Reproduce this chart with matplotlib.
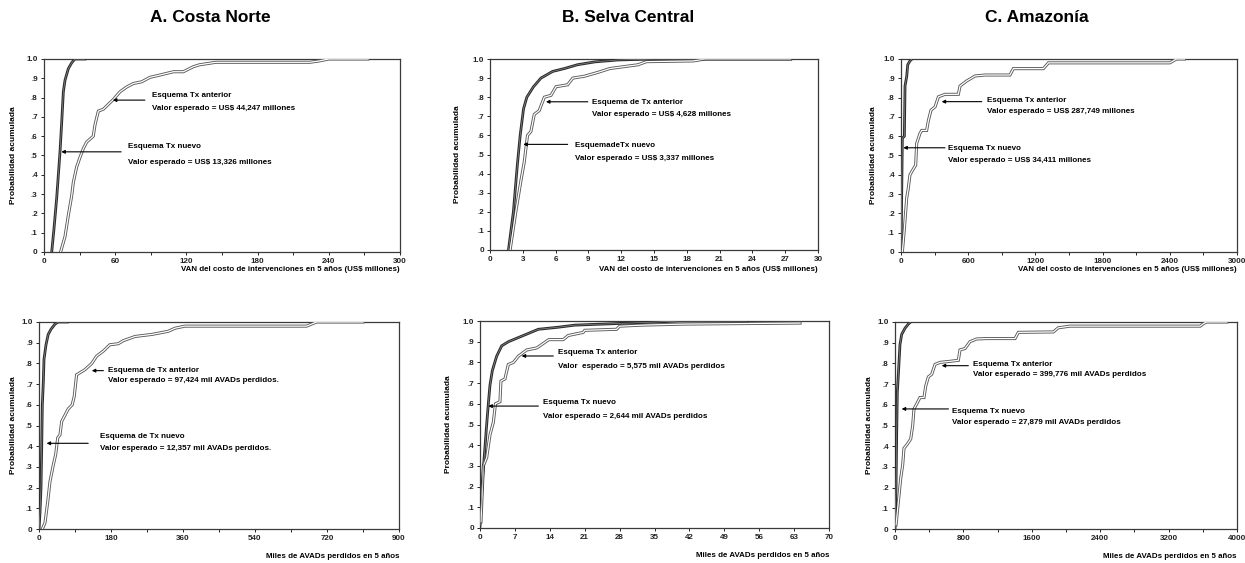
import matplotlib
matplotlib.use("Agg")
import matplotlib.pyplot as plt
from matplotlib.ticker import MultipleLocator, FuncFormatter

plt.rcParams["font.family"] = ["Liberation Sans", "DejaVu Sans"]
plt.rcParams["font.weight"] = "bold"

# ---- data (cumulative probability curves) ----
# A. Costa Norte - cost (US$ millones)
a_cost_nuevo_x = [6.5, 8.4, 10.7, 12.1, 13.5, 14.9, 16.3, 17.7, 20.5, 23.3, 26, 34.5]
a_cost_nuevo_y = [0, .12, .28, .40, .52, .67, .83, .89, .95, .98, 1.0, 1.0]
a_cost_ant_x = [14, 17.7, 20.5, 23.3, 24.7, 27.5, 30.3, 33.1, 36, 38.8, 41.5, 43, 45.8, 50, 54.2,
                58.4, 64, 69.7, 75.3, 82.3, 89.3, 97.7, 109, 117.4, 125.8, 131, 145, 224, 232, 240, 273]
a_cost_ant_y = [0, .08, .19, .29, .36, .44, .49, .535, .57, .585, .60, .66, .73, .74, .765,
                .79, .83, .855, .873, .882, .905, .917, .934, .934, .96, .97, .983, .983, .99, 1.0, 1.0]

# B. Selva Central - cost
b_cost_nuevo_x = [1.69, 2.14, 2.5, 2.76, 3.07, 3.37, 3.98, 4.66, 5.73, 6.8, 8.0, 9.6, 11.7, 14.9, 27.5]
b_cost_nuevo_y = [0, .2, .445, .6, .74, .80, .855, .90, .935, .95, .97, .985, .995, 1.0, 1.0]
b_cost_ant_x = [1.84, 2.36, 2.82, 3.13, 3.43, 3.74, 4.05, 4.5, 4.97, 5.58, 6.04, 7.1, 7.57, 8.65,
                9.87, 10.95, 13.55, 14.3, 18.6, 19.7, 27.5]
b_cost_ant_y = [0, .2, .36, .46, .6, .62, .71, .73, .80, .81, .855, .865, .90, .91,
                .93, .95, .97, .986, .99, 1.0, 1.0]

# C. Amazonia - cost
c_cost_nuevo_x = [0, 6, 12, 30, 36, 51, 60, 80, 98]
c_cost_nuevo_y = [0, .295, .59, .60, .86, .91, .97, .99, 1.0]
c_cost_ant_x = [12, 30, 51, 65, 80, 110, 131, 140, 170, 185, 229, 244, 268, 304, 334, 393, 512, 527,
                586, 661, 750, 973, 1003, 1271, 1316, 2400, 2430, 2460, 2530]
c_cost_ant_y = [0, .12, .28, .33, .40, .43, .45, .563, .615, .63, .63, .68, .735, .752, .804, .817, .817, .86,
                .886, .912, .917, .917, .95, .95, .98, .98, .99, 1.0, 1.0]

# A. Costa Norte - AVADs (miles)
a_daly_nuevo_x = [0, 2.5, 5, 6.7, 8.3, 10.8, 12.5, 17.5, 23, 30, 40, 48, 71]
a_daly_nuevo_y = [0, .08, .2, .39, .6, .71, .82, .89, .94, .965, .99, 1.0, 1.0]
a_daly_ant_x = [8.3, 15, 21.7, 27.5, 35.8, 41.7, 46.7, 52.5, 56.7, 65, 73, 83, 88, 94, 115, 132, 144,
                161, 177, 198, 211, 240, 282, 323, 340, 365, 669, 694, 810]
a_daly_ant_y = [0, .03, .13, .23, .31, .36, .44, .455, .52, .55, .58, .6, .64, .745, .77, .80, .835,
                .86, .89, .895, .91, .93, .94, .955, .97, .98, .98, 1.0, 1.0]

# B. Selva Central - AVADs
b_daly_nuevo_x = [0, 0.47, 0.87, 1.34, 1.67, 2.0, 2.47, 3.34, 4.35, 5.7, 7.7, 9.7, 11.7, 15.7, 19, 30, 40, 53.5]
b_daly_nuevo_y = [.01, .22, .35, .5, .6, .69, .76, .83, .88, .90, .92, .94, .96, .97, .98, .99, 1.0, 1.0]
b_daly_ant_x = [0.2, 0.67, 1.34, 2.0, 2.67, 3.1, 4.0, 4.2, 5.0, 5.68, 6.7, 7.7, 9.36, 11.4, 13.8, 16.7,
                17.7, 20.7, 21, 27.4, 28, 32.4, 40.8, 64.2]
b_daly_ant_y = [.03, .3, .34, .45, .51, .6, .61, .71, .72, .79, .80, .83, .86, .87, .91, .91,
                .93, .945, .955, .96, .975, .98, .985, .99]

# C. Amazonia - AVADs
c_daly_nuevo_x = [0, 12, 20, 27, 39, 58, 78, 117, 156, 183]
c_daly_nuevo_y = [0, .2, .47, .66, .745, .89, .94, .97, .99, 1.0]
c_daly_ant_x = [12, 39, 67, 90, 105, 144, 184, 207, 222, 261, 292, 339, 359, 390, 429, 468, 526, 643,
                741, 760, 819, 877, 955, 1072, 1404, 1442, 1852, 1910, 2047, 3570, 3600, 3640, 3880]
c_daly_ant_y = [.02, .13, .245, .31, .39, .41, .435, .50, .58, .61, .635, .635, .69, .735, .747, .795,
                .805, .81, .815, .865, .872, .905, .918, .92, .92, .95, .952, .972, .98, .98, .99, 1.0, 1.0]

titles = ["A. Costa Norte", "B. Selva Central", "C. Amazonía"]
title_x_px = [210, 628, 1037]
cost_xlabel = "VAN del costo de intervenciones en 5 años (US$ millones)"
daly_xlabel = "Miles de AVADs perdidos en 5 años"

W, H = 1245, 563

# rect in pixels: left, top, right, bottom
panels = [
    dict(rect=(44, 59, 400, 252), xmax=300, major=60, minor=30, ylab=31, xlab=14, xlabel=cost_xlabel,
         nuevo=(a_cost_nuevo_x, a_cost_nuevo_y), ant=(a_cost_ant_x, a_cost_ant_y),
         ann_ant=dict(tip=58, tail=85, ya=.787, tx=91.4, y1=.813, y2=.744,
                      t1="Esquema Tx anterior", t2="Valor esperado = US$ 44,247 millones"),
         ann_nue=dict(tip=14.6, tail=65, ya=.519, tx=70.8, y1=.545, y2=.462,
                      t1="Esquema Tx nuevo", t2="Valor esperado = US$ 13,326 millones")),
    dict(rect=(490, 59, 818, 250), xmax=30, major=3, minor=3, ylab=33, xlab=16, xlabel=cost_xlabel,
         nuevo=(b_cost_nuevo_x, b_cost_nuevo_y), ant=(b_cost_ant_x, b_cost_ant_y),
         ann_ant=dict(tip=5.12, tail=8.95, ya=.776, tx=9.3, y1=.772, y2=.707,
                      t1="Esquema de Tx anterior", t2="Valor esperado = US$ 4,628 millones"),
         ann_nue=dict(tip=3.04, tail=7.1, ya=.553, tx=7.8, y1=.545, y2=.48,
                      t1="EsquemadeTx nuevo", t2="Valor esperado = US$ 3,337 millones")),
    dict(rect=(901, 59, 1237, 252), xmax=3000, major=600, minor=300, ylab=28, xlab=14, xlabel=cost_xlabel,
         nuevo=(c_cost_nuevo_x, c_cost_nuevo_y), ant=(c_cost_ant_x, c_cost_ant_y),
         ann_ant=dict(tip=363, tail=721, ya=.779, tx=765, y1=.784, y2=.727,
                      t1="Esquema Tx anterior", t2="Valor esperado = US$ 287,749 millones"),
         ann_nue=dict(tip=21, tail=393, ya=.54, tx=423, y1=.537, y2=.473,
                      t1="Esquema Tx nuevo", t2="Valor esperado = US$ 34,411 millones")),
    dict(rect=(39, 322, 399, 529), xmax=900, major=180, minor=90, ylab=26, xlab=24, xlabel=daly_xlabel,
         nuevo=(a_daly_nuevo_x, a_daly_nuevo_y), ant=(a_daly_ant_x, a_daly_ant_y),
         ann_ant=dict(tip=132, tail=161, ya=.765, tx=173, y1=.768, y2=.715,
                      t1="Esquema de Tx anterior", t2="Valor esperado = 97,424 mil AVADs perdidos."),
         ann_nue=dict(tip=19, tail=123, ya=.414, tx=152, y1=.446, y2=.39,
                      t1="Esquema de Tx nuevo", t2="Valor esperado = 12,357 mil AVADs perdidos.")),
    dict(rect=(480, 321, 829, 528), xmax=70, major=7, minor=7, ylab=32, xlab=24, xlabel=daly_xlabel,
         nuevo=(b_daly_nuevo_x, b_daly_nuevo_y), ant=(b_daly_ant_x, b_daly_ant_y),
         ann_ant=dict(tip=8.35, tail=14.7, ya=.831, tx=15.7, y1=.847, y2=.779,
                      t1="Esquema Tx anterior", t2="Valor  esperado = 5,575 mil AVADs perdidos"),
         ann_nue=dict(tip=1.67, tail=11.7, ya=.589, tx=12.7, y1=.605, y2=.541,
                      t1="Esquema Tx nuevo", t2="Valor esperado = 2,644 mil AVADs perdidos")),
    dict(rect=(895, 322, 1237, 529), xmax=4000, major=800, minor=400, ylab=26, xlab=24, xlabel=daly_xlabel,
         nuevo=(c_daly_nuevo_x, c_daly_nuevo_y), ant=(c_daly_ant_x, c_daly_ant_y),
         ann_ant=dict(tip=546, tail=858, ya=.789, tx=917, y1=.797, y2=.744,
                      t1="Esquema Tx anterior", t2="Valor esperado = 399,776 mil AVADs perdidos"),
         ann_nue=dict(tip=78, tail=625, ya=.58, tx=664, y1=.567, y2=.514,
                      t1="Esquema Tx nuevo", t2="Valor esperado = 27,879 mil AVADs perdidos")),
]

FS_TICK = 5.8
FS_TEXT = 5.8


def _yfmt(v, _pos):
    if abs(v) < 1e-9:
        return "0"
    if abs(v - 1) < 1e-9:
        return "1.0"
    return f"{v:.1f}"[1:]


def _curve(ax, xs, ys, outer, inner, lw_out, lw_in):
    ax.plot(xs, ys, color=outer, lw=lw_out, solid_joinstyle="miter", zorder=3)
    ax.plot(xs, ys, color=inner, lw=lw_in, zorder=4)


def _label(ax, ann):
    ax.annotate("", xy=(ann["tip"], ann["ya"]), xytext=(ann["tail"], ann["ya"]),
                arrowprops=dict(arrowstyle="-|>", color="black", lw=0.8, mutation_scale=5,
                                shrinkA=0, shrinkB=0), zorder=5)
    ax.text(ann["tx"], ann["y1"], ann["t1"], fontsize=FS_TEXT, fontweight="bold", va="center", ha="left")
    ax.text(ann["tx"], ann["y2"], ann["t2"], fontsize=FS_TEXT, fontweight="bold", va="center", ha="left")


fig = plt.figure(figsize=(W / 100, H / 100), dpi=100, facecolor="white")

for t, xp in zip(titles, title_x_px):
    fig.text(xp / W, 1 - 18 / H, t, ha="center", va="center", fontsize=12.5, fontweight="bold")

for p in panels:
    l, t, r, b = p["rect"]
    wpx, hpx = r - l, b - t
    ax = fig.add_axes([l / W, 1 - b / H, wpx / W, hpx / H])

    _curve(ax, *p["ant"], outer="#5a5a5a", inner="white", lw_out=2.2, lw_in=0.9)
    _curve(ax, *p["nuevo"], outer="#2a2a2a", inner="#8a8a8a", lw_out=2.0, lw_in=0.5)
    _label(ax, p["ann_ant"])
    _label(ax, p["ann_nue"])

    ax.set_xlim(0, p["xmax"])
    ax.set_ylim(0, 1.0)
    ax.xaxis.set_major_locator(MultipleLocator(p["major"]))
    ax.xaxis.set_minor_locator(MultipleLocator(p["minor"]))
    ax.yaxis.set_major_locator(MultipleLocator(0.1))
    ax.yaxis.set_major_formatter(FuncFormatter(_yfmt))
    ax.tick_params(axis="both", which="both", direction="out", length=2.5, width=0.7,
                   labelsize=FS_TICK, pad=2, colors="#222222")
    ax.tick_params(top=False, right=False)
    for lab in ax.get_xticklabels() + ax.get_yticklabels():
        lab.set_fontweight("bold")
    for sp in ax.spines.values():
        sp.set_color("#3a3a3a")
        sp.set_linewidth(0.9)

    # label anchor is the baseline side of the rotated text, so shift by ~4 px
    ax.set_ylabel("Probabilidad acumulada", fontsize=6, fontweight="bold")
    ax.yaxis.set_label_coords(-(p["ylab"] - 4) / wpx, 0.5)
    ax.set_xlabel(p["xlabel"], fontsize=5.7, fontweight="bold")
    ax.xaxis.set_label_coords(1.0, -p["xlab"] / hpx)
    ax.xaxis.label.set_ha("right")

fig.savefig("out.png", dpi=100, facecolor="white")
